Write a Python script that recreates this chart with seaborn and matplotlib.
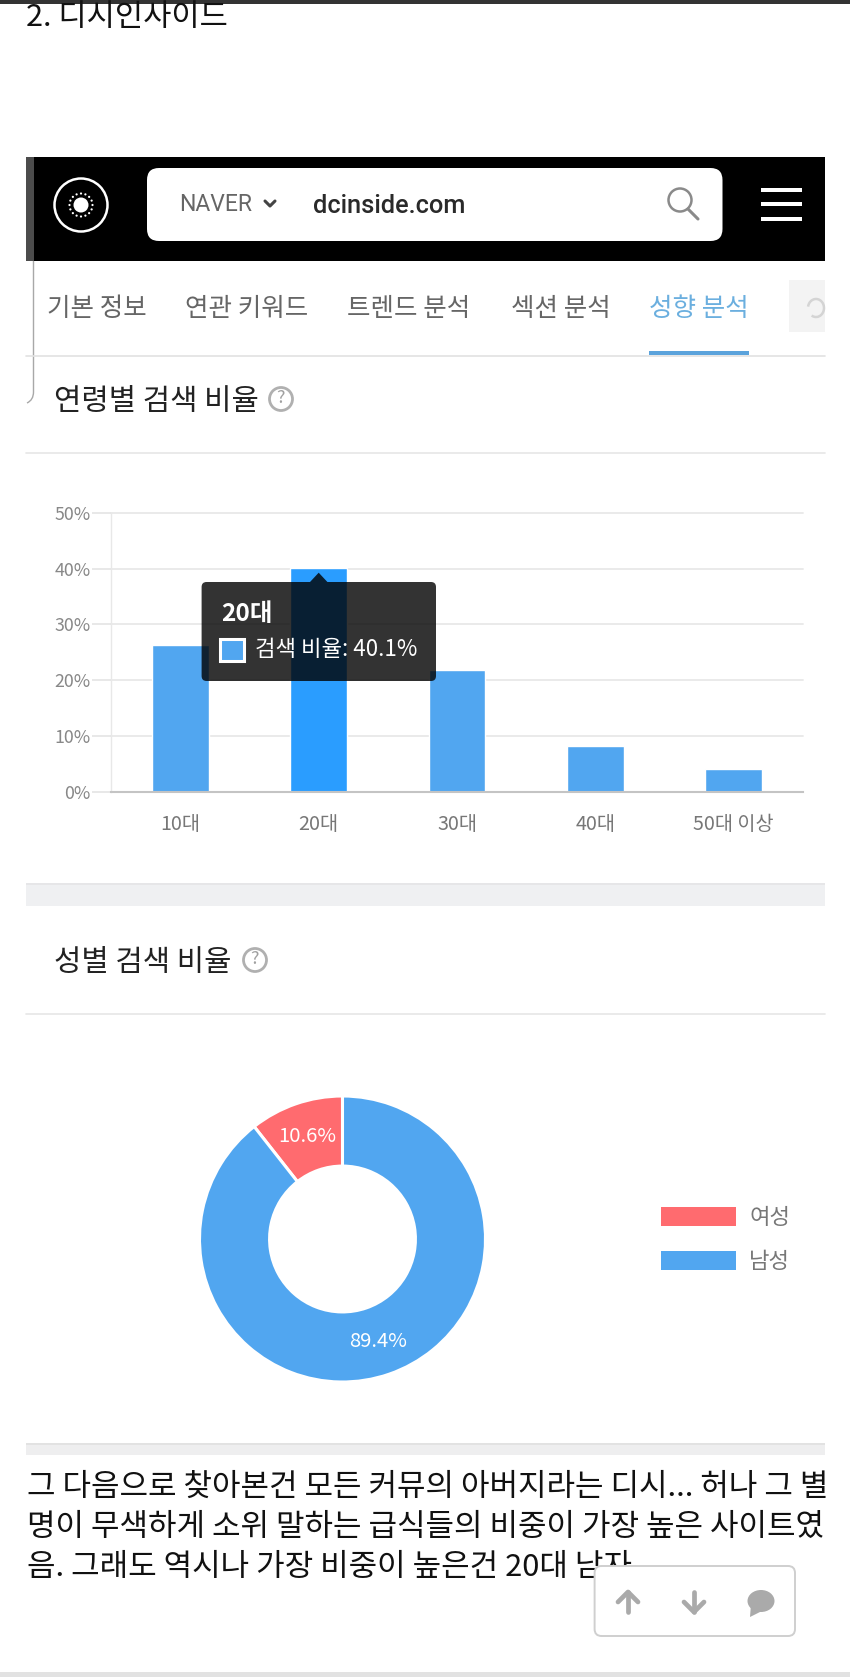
import numpy as np
import pandas as pd
import seaborn as sns
import matplotlib
matplotlib.use("Agg")
import matplotlib.pyplot as plt
from matplotlib.patches import FancyBboxPatch, Rectangle, Circle, Ellipse, Polygon, Arc, PathPatch
from matplotlib.path import Path

# ---- data ----
age_labels = ["10대", "20대", "30대", "40대", "50대 이상"]
age_share = [26.4, 40.1, 21.8, 8.3, 4.1]
age_ticks = [0, 10, 20, 30, 40, 50]
gender_labels = ["여성", "남성"]
gender_share = [10.6, 89.4]
tab_labels = ["기본 정보", "연관 키워드", "트렌드 분석", "섹션 분석", "성향 분석"]
body_lines = ["그 다음으로 찾아본건 모든 커뮤의 아버지라는 디시... 허나 그 별",
              "명이 무색하게 소위 말하는 급식들의 비중이 가장 높은 사이트였",
              "음. 그래도 역시나 가장 비중이 높은건 20대 남자"]

BLUE, HOVER, RED = "#51a6f0", "#2a9dff", "#ff6b6f"
KR = ["Noto Sans CJK KR", "DejaVu Sans"]

sns.set_theme(style="white")
plt.rcParams["font.family"] = KR
W, H = 850, 1677
fig = plt.figure(figsize=(W / 100, H / 100), dpi=100, facecolor="white")

def px_axes(l, t, r, b, **kw):
    return fig.add_axes([l / W, 1 - b / H, (r - l) / W, (b - t) / H], **kw)

def canvas(z):
    a = fig.add_axes([0, 0, 1, 1], zorder=z)
    a.set_xlim(0, W); a.set_ylim(H, 0); a.axis("off"); a.patch.set_alpha(0)
    return a

def T(a, x, y, s, px, color="#222222", ha="left", va="center", weight="normal", family=None, **kw):
    return a.text(x, y, s, fontsize=px * 0.72, color=color, ha=ha, va=va, weight=weight,
                  family=family or KR, **kw)

def box(a, l, t, r, b, rad, **kw):
    a.add_patch(FancyBboxPatch((l + rad, t + rad), r - l - 2 * rad, b - t - 2 * rad,
                               boxstyle=f"round,pad={rad},rounding_size={rad}", **kw))

def help_icon(a, x, y):
    a.add_patch(Circle((x, y), 11.5, fc="none", ec="#b0b0b0", lw=2))
    T(a, x, y - 1, "?", 18, color="#a0a0a0", ha="center")

bg = canvas(0)
# chrome
bg.add_patch(Rectangle((0, 0), W, 3.5, fc="#333333", ec="none"))
T(bg, 26, 17.5, "2. 디시인사이드", 30.7, color="#111111")
bg.add_patch(Rectangle((26.5, 157), 798.5, 104, fc="black", ec="none"))
bg.add_patch(Rectangle((26.5, 157), 8, 104, fc="#4c4c4c", ec="none"))
bg.add_patch(PathPatch(Path([(33.5, 261), (33.5, 392), (33.5, 400), (27, 403)],
                            [Path.MOVETO, Path.LINETO, Path.CURVE3, Path.CURVE3]),
                       fc="none", ec="#a8a8a8", lw=1))
# logo
bg.add_patch(Circle((81, 205), 26.5, fc="none", ec="white", lw=1.8))
bg.add_patch(Circle((81, 205), 7.5, fc="white", ec="none"))
for th in np.linspace(0, 2 * np.pi, 16, endpoint=False):
    bg.add_patch(Circle((81 + 11.5 * np.cos(th), 205 + 11.5 * np.sin(th)), 1.1, fc="white", ec="none"))
# search box
box(bg, 147, 168, 722.5, 241, 12, fc="white", ec="none")
T(bg, 179, 204, "NAVER", 23, color="#666666", family="Roboto")
bg.plot([265, 270, 275], [201, 206, 201], color="#444444", lw=2.2, solid_capstyle="round")
T(bg, 313, 206, "dcinside.com", 25.4, color="#2a2a2a", family="Roboto", weight="medium")
bg.add_patch(Circle((680, 200), 11.5, fc="none", ec="#8a8a8a", lw=1.8))
bg.plot([688, 698], [209, 219], color="#8a8a8a", lw=2.2)
for y in (190, 204, 219):
    bg.add_patch(Rectangle((761.5, y - 1.8), 40.5, 3.6, fc="white", ec="none"))
# tabs
tab_x = [47, 185, 347, 511, 649]
for i, (x, s) in enumerate(zip(tab_x, tab_labels)):
    T(bg, x, 309, s, 25.5, color="#6bafdf" if i == 4 else "#666666")
bg.add_patch(Rectangle((789, 280), 36, 52, fc="#f3f3f3", ec="none"))
bg.add_patch(Arc((816, 308), 16, 18, theta1=-170, theta2=120, ec="#d4d4d4", lw=1.8))
bg.plot([26, 825], [355.5, 355.5], color="#e2e2e2", lw=1.2)
bg.add_patch(Rectangle((649, 351), 100, 4, fc="#5ba3dc", ec="none"))
# section 1
T(bg, 54, 401, "연령별 검색 비율", 29.7, color="#222222")
help_icon(bg, 281, 399)
bg.plot([26, 825], [453, 453], color="#e6e6e6", lw=1.2)
bg.add_patch(Rectangle((26, 883), 799, 23, fc="#eff0f2", ec="none"))
bg.add_patch(Rectangle((26, 883), 799, 2, fc="#e6e6e8", ec="none"))
# section 2
T(bg, 54, 962, "성별 검색 비율", 29.7, color="#222222")
help_icon(bg, 255, 960)
bg.plot([26, 825], [1014, 1014], color="#e6e6e6", lw=1.2)
bg.add_patch(Rectangle((26, 1443), 799, 12, fc="#eeeeef", ec="none"))
bg.add_patch(Rectangle((26, 1443), 799, 2, fc="#e2e2e2", ec="none"))
# body
for y, s in zip((1487, 1527, 1567), body_lines):
    T(bg, 27, y, s, 31, color="#111111")
bg.add_patch(Rectangle((0, 1672), W, 5, fc="#e2e2e2", ec="none"))

# ---- bar chart ----
ax = px_axes(111, 512.7, 803, 792, zorder=1)
df = pd.DataFrame({"age": age_labels, "share": age_share})
colors = [HOVER if v == max(age_share) else BLUE for v in age_share]
sns.barplot(data=df, x="age", y="share", hue="age", palette=colors, width=0.41,
            saturation=1, legend=False, ax=ax)
ax.set_ylim(0, 50)
ax.set_xlim(-0.5, 4.5)
ax.set_xlabel(""); ax.set_ylabel("")
ax.patch.set_alpha(0)
ax.set_yticks(age_ticks)
ax.set_yticklabels([f"{t}%" for t in age_ticks])
ax.set_axisbelow(True)
ax.grid(axis="y", color="#e8e8e8", lw=1.3, clip_on=False)
ax.grid(axis="x", visible=False)
for s in ("top", "right"):
    ax.spines[s].set_visible(False)
ax.spines["left"].set_color("#e8e8e8"); ax.spines["left"].set_linewidth(1)
ax.spines["bottom"].set_color("#c4c4c4"); ax.spines["bottom"].set_linewidth(1.5)
ax.tick_params(axis="y", length=13.7, width=1.2, color="#e4e4e4", pad=1,
               labelsize=12.8, labelcolor="#888888", left=True)
ax.tick_params(axis="x", length=0, pad=15.5, labelsize=14.2, labelcolor="#777777")

# ---- donut ----
r_px = 143
dx = px_axes(342.5 - r_px, 1239 - r_px, 342.5 + r_px, 1239 + r_px, zorder=1)
wedges, _, autos = dx.pie(gender_share, colors=[RED, BLUE], startangle=90, counterclock=True,
                          radius=1, autopct="%.1f%%", pctdistance=0.76,
                          wedgeprops=dict(width=0.49, edgecolor="white", linewidth=2.2),
                          textprops=dict(color="white", fontsize=14.6))
dx.set_xlim(-1, 1); dx.set_ylim(-1, 1)
leg = dx.legend(wedges, gender_labels, loc="upper left", bbox_to_anchor=(661 / W, 1 - 1206 / H),
                bbox_transform=fig.transFigure, frameon=False, fontsize=16, labelcolor="#777777",
                handlelength=3.36, handleheight=0.95, labelspacing=0.95, handletextpad=0.62,
                borderpad=0, borderaxespad=0)
for h in leg.get_patches():
    h.set_edgecolor("none")

# ---- overlay: tooltip and floating toolbar ----
top = canvas(3)
tip = dict(fc=(0, 0, 0, 0.8), ec="none")
box(top, 201.6, 582, 436, 681, 5, **tip)
top.add_patch(Polygon([(310, 582), (318.7, 572.7), (327.4, 582)], closed=True, **tip))
T(top, 221, 614, age_labels[1], 24.5, color="white", weight="bold")
top.add_patch(Rectangle((220.5, 639), 23.5, 22, fc=BLUE, ec="white", lw=2.2))
T(top, 255, 649, f"검색 비율: {age_share[1]}%", 22.3, color="white")

box(top, 594.6, 1566, 795, 1636, 7, fc="white", ec="#cfcfcf", lw=1.4)
GR = dict(color="#aaaaaa", lw=3.4, solid_capstyle="round", solid_joinstyle="round")
top.plot([628, 628], [1592, 1612], **GR)
top.plot([618, 628, 638], [1602, 1592, 1602], **GR)
top.plot([694, 694], [1592, 1612], **GR)
top.plot([684, 694, 704], [1602, 1612, 1602], **GR)
top.add_patch(Ellipse((761, 1601), 27, 22, fc="#aaaaaa", ec="none"))
top.add_patch(Polygon([(750, 1617), (751, 1604), (762, 1611)], closed=True, fc="#aaaaaa", ec="none"))

fig.savefig("out.png", dpi=100, facecolor="white")
